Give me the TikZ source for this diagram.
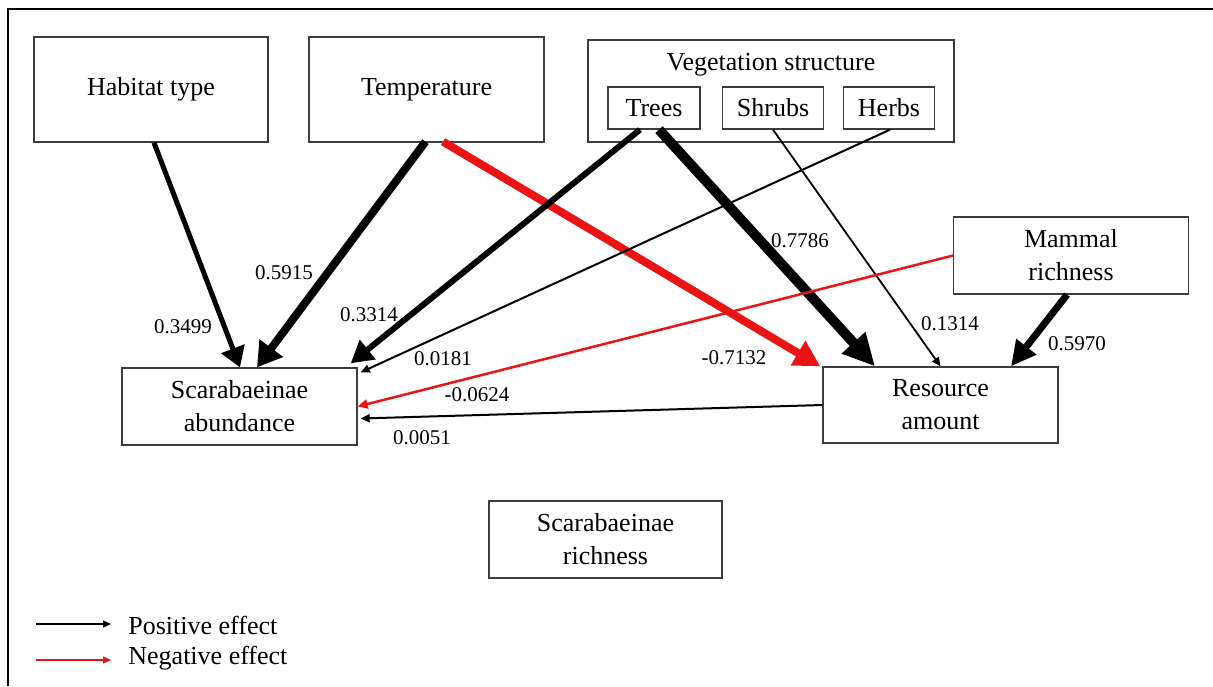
\documentclass[tikz,border=0pt]{standalone}
\usepackage{fontspec}
\setmainfont{Liberation Serif}
\usetikzlibrary{arrows.meta,calc}
\definecolor{negred}{RGB}{235,20,20}
\definecolor{boxgray}{RGB}{60,60,60}
\begin{document}
\begin{tikzpicture}[x=0.5pt,y=-0.5pt,
  box/.style={draw=boxgray,line width=0.65pt,rectangle,inner sep=0pt,align=center,font=\fontsize{13}{16.5}\selectfont},
  txt/.style={inner sep=0pt,font=\fontsize{13}{16.5}\selectfont},
  lab/.style={inner sep=0pt,font=\fontsize{10.5}{12}\selectfont},
  arr/.style n args={3}{line width=#1,-{Triangle[length=#2,width=#3]}},
  poseff/.style={draw=black},
  negeff/.style={draw=negred},
  frame/.style={line width=1.3pt,line join=miter}]
\useasboundingbox (0,0) rectangle (1213,686);
\coordinate (fbl) at (8,686);
\coordinate (ftl) at (8,9);
\coordinate (ftr) at (1213,9);
\draw[frame] (fbl) -- (ftl) -- (ftr);

% boxes
\node[box,minimum width=117pt,minimum height=52.5pt] (hab) at (151,89.5) {Habitat type};
\node[box,minimum width=117.5pt,minimum height=52.5pt] (temp) at (426.5,89.5) {Temperature};
\node[box,minimum width=183pt,minimum height=51pt] (veg) at (771,91) {};
\node[txt] (vegt) at (771,65) {Vegetation structure};
\node[box,minimum width=46pt,minimum height=21pt] (trees) at (654,108) {Trees};
\node[box,minimum width=50.75pt,minimum height=21pt] (shrubs) at (773,108) {Shrubs};
\node[box,minimum width=45.25pt,minimum height=21pt] (herbs) at (889,108) {Herbs};
\node[box,minimum width=117.5pt,minimum height=38.5pt] (abund) at (239.5,406.5) {Scarabaeinae\\abundance};
\node[box,minimum width=117.5pt,minimum height=38pt] (res) at (940.5,405) {Resource\\amount};
\node[box,minimum width=117.25pt,minimum height=38.5pt] (mam) at (1071,255.5) {Mammal\\richness};
\node[box,minimum width=116.5pt,minimum height=38.5pt] (rich) at (605.5,539.5) {Scarabaeinae\\richness};

% connectors
\draw[poseff,arr={2.5pt}{10pt}{12pt}] ($(hab.south)+(3,0)$) -- ($(abund.north)+(0.5,0)$);
\draw[poseff,arr={4pt}{12pt}{14pt}] ($(temp.south)+(-1,-1)$) -- ($(abund.north)+(17.5,0)$);
\draw[negeff,arr={4pt}{13pt}{13.5pt}] ($(temp.south)+(16.5,-1)$) -- ($(res.north west)+(-2,0)$);
\draw[poseff,arr={3pt}{11pt}{12pt}] ($(trees.south)+(-14,0)$) -- ($(abund.north east)+(-7,-4)$);
\draw[poseff,arr={5pt}{16pt}{15pt}] ($(trees.south)+(5,0)$) -- ($(res.north)+(-65.5,0)$);
\draw[poseff,arr={1pt}{4.5pt}{4pt}] ($(herbs.south)+(1,0)$) -- ($(abund.north east)+(3,5)$);
\draw[poseff,arr={0.9pt}{4.5pt}{4pt}] (shrubs.south) -- (res.north);
\draw[negeff,arr={1.25pt}{5pt}{4.5pt}] (mam.west) -- (abund.east);
\draw[poseff,arr={3.5pt}{12.5pt}{12pt}] ($(mam.south)+(-4,0)$) -- ($(res.north)+(70.5,0)$);
\draw[poseff,arr={1pt}{4.5pt}{4pt}] (res.west) -- ($(abund.east)+(3,12)$);

% labels
\node[lab] (l1) at (183,327) {0.3499};
\node[lab] (l2) at (284,273) {0.5915};
\node[lab] (l3) at (369,315) {0.3314};
\node[lab] (l4) at (443,359) {0.0181};
\node[lab] (l5) at (477,395) {-0.0624};
\node[lab] (l6) at (422,438) {0.0051};
\node[lab] (l7) at (800,241) {0.7786};
\node[lab] (l8) at (950,324) {0.1314};
\node[lab] (l9) at (1077,344) {0.5970};
\node[lab] (l10) at (734,358) {-0.7132};

% legend
\coordinate (lpa) at (36,624);
\coordinate (lpb) at (111,624);
\coordinate (lna) at (36,660);
\coordinate (lnb) at (111,660);
\draw[poseff,arr={0.65pt}{4pt}{3.5pt}] (lpa) -- (lpb);
\draw[negeff,arr={0.65pt}{4pt}{3.5pt}] (lna) -- (lnb);
\node[txt,anchor=west] (lpt) at (128,625) {Positive effect};
\node[txt,anchor=west] (lnt) at (128,658) {Negative effect};
\end{tikzpicture}
\end{document}
